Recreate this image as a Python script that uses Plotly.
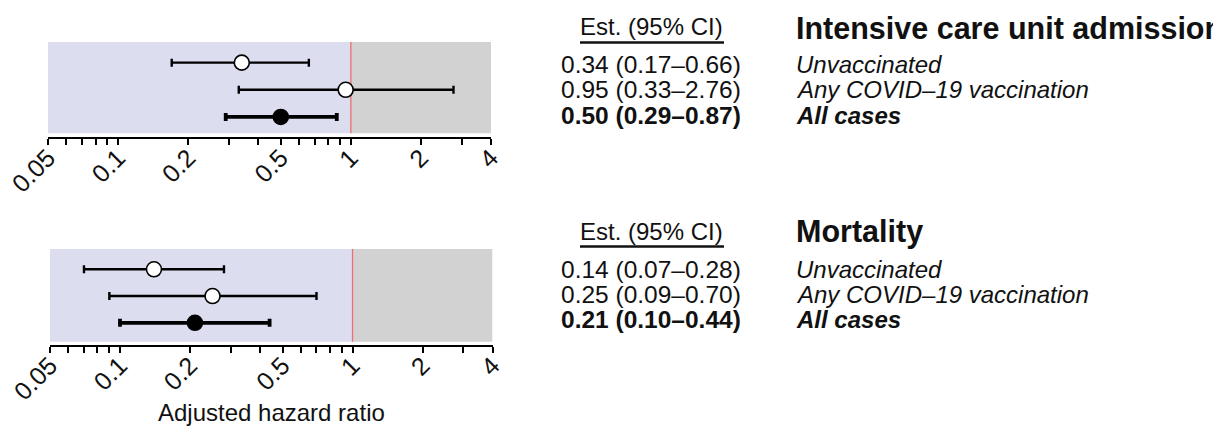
import math
import plotly.graph_objects as go

W, H = 1213, 428

# ---------------- data ----------------
rows = ["Unvaccinated", "Any COVID\u201319 vaccination", "All cases"]
row_pos = [3, 2, 1]

icu_est = [0.34, 0.95, 0.50]
icu_lo = [0.17, 0.33, 0.29]
icu_hi = [0.66, 2.76, 0.87]

mort_est = [0.14, 0.25, 0.21]
mort_lo = [0.07, 0.09, 0.10]
mort_hi = [0.28, 0.70, 0.44]

panel_titles = ["Intensive care unit admission", "Mortality"]
x_ticks = [0.05, 0.1, 0.2, 0.5, 1, 2, 4]
x_tick_labels = ["0.05", "0.1", "0.2", "0.5", "1", "2", "4"]
x_minor = [0.06, 0.07, 0.08, 0.09, 0.3, 0.4, 0.6, 0.7, 0.8, 0.9, 3]
x_title = "Adjusted hazard ratio"
ref_value = 1
x_min, x_max = 0.05, 4

FONT = "Liberation Sans, Arial, Helvetica, sans-serif"
INK = "#111"


def px_x(x):
    return x / W


def px_y(y):
    return 1 - y / H


fig = go.Figure()

panels = [
    dict(est=icu_est, lo=icu_lo, hi=icu_hi, xd=(48, 491), yd=(42, 137.3),
         yr=(0.25, 3.76), shade0=0.042, head_y=28, title=panel_titles[0]),
    dict(est=mort_est, lo=mort_lo, hi=mort_hi, xd=(50, 492.5), yd=(249, 345),
         yr=(0.17, 3.76), shade0=0.034, head_y=232, title=panel_titles[1]),
]

for i, p in enumerate(panels):
    xa = "x" if i == 0 else "x2"
    ya = "y" if i == 0 else "y2"
    for j in range(3):
        est, lo, hi = p["est"][j], p["lo"][j], p["hi"][j]
        bold = j == 2
        fig.add_trace(go.Scatter(
            x=[est], y=[row_pos[j]], xaxis=xa, yaxis=ya, mode="markers",
            marker=dict(size=15, color="black" if bold else "white",
                        line=dict(color="black", width=1.6)),
            error_x=dict(type="data", symmetric=False, array=[hi - est],
                         arrayminus=[est - lo], color="black",
                         thickness=3.8 if bold else 2.4, width=4),
            showlegend=False, hoverinfo="skip", cliponaxis=False,
        ))

    axis_common = dict(
        type="log", range=[math.log10(x_min), math.log10(x_max)],
        domain=[px_x(p["xd"][0]), px_x(p["xd"][1])],
        tickmode="array", tickvals=x_ticks, ticktext=x_tick_labels,
        tickangle=-45, ticks="outside", ticklen=6, tickwidth=2, tickcolor="black",
        ticklabelstandoff=-12,
        showline=True, linecolor="black", linewidth=2,
        showgrid=False, zeroline=False, automargin=False,
        tickfont=dict(family=FONT, size=25, color=INK),
        minor=dict(tickmode="array", tickvals=x_minor, ticks="outside",
                   ticklen=6, tickwidth=2, tickcolor="black", showgrid=False),
        anchor=ya,
    )
    yaxis_common = dict(domain=[px_y(p["yd"][1]), px_y(p["yd"][0])],
                        range=list(p["yr"]), showticklabels=False, showgrid=False,
                        zeroline=False, showline=False, ticks="", anchor=xa,
                        automargin=False)
    if i == 0:
        fig.update_layout(xaxis=axis_common, yaxis=yaxis_common)
    else:
        fig.update_layout(xaxis2=axis_common, yaxis2=yaxis_common)

    # background shading
    fig.add_shape(type="rect", xref=xa, yref=ya + " domain", x0=x_min, x1=ref_value,
                  y0=p["shade0"], y1=1, fillcolor="#DCDEF0", line_width=0, layer="below")
    fig.add_shape(type="rect", xref=xa, yref=ya + " domain", x0=ref_value, x1=x_max,
                  y0=p["shade0"], y1=1, fillcolor="#D3D2D3", line_width=0, layer="below")
    fig.add_shape(type="line", xref=xa, yref=ya + " domain", x0=ref_value, x1=ref_value,
                  y0=p["shade0"], y1=1, line=dict(color="#EC6F6F", width=1.3), layer="below")

    # text table
    hy = p["head_y"]
    fig.add_annotation(x=px_x(651), y=px_y(hy - 1), xref="paper", yref="paper",
                       text="Est. (95% CI)", showarrow=False, xanchor="center", yanchor="middle",
                       font=dict(family=FONT, size=24, color=INK))
    fig.add_shape(type="line", xref="paper", yref="paper", x0=px_x(580), x1=px_x(724),
                  y0=px_y(hy + 14.5), y1=px_y(hy + 14.5), line=dict(color=INK, width=2.6))
    fig.add_annotation(x=px_x(794), y=px_y(hy), xref="paper", yref="paper",
                       text="<b>" + p["title"] + "</b>", showarrow=False,
                       xanchor="left", yanchor="middle",
                       font=dict(family=FONT, size=30.5, color=INK))
    for j in range(3):
        ty = hy + 37 + 25 * j
        txt = f"{p['est'][j]:.2f} ({p['lo'][j]:.2f}\u2013{p['hi'][j]:.2f})"
        lab = rows[j]
        if j == 2:
            txt = "<b>" + txt + "</b>"
            lab = "<b><i>" + lab + "</i></b>"
        else:
            lab = "<i>" + lab + "</i>"
        fig.add_annotation(x=px_x(651), y=px_y(ty), xref="paper", yref="paper",
                           text=txt, showarrow=False, xanchor="center", yanchor="middle",
                           font=dict(family=FONT, size=24.5, color=INK))
        fig.add_annotation(x=px_x(794), y=px_y(ty), xref="paper", yref="paper",
                           text=lab, showarrow=False, xanchor="left", yanchor="middle",
                           font=dict(family=FONT, size=24, color=INK))

# x-axis title (bottom panel)
fig.add_annotation(x=px_x(271), y=px_y(412), xref="paper", yref="paper",
                   text=x_title, showarrow=False, xanchor="center", yanchor="middle",
                   font=dict(family=FONT, size=24, color=INK))

fig.update_layout(
    width=W, height=H, margin=dict(l=0, r=0, t=0, b=0, autoexpand=False),
    paper_bgcolor="white", plot_bgcolor="rgba(0,0,0,0)",
    showlegend=False,
)

fig.write_html(
    "out.html",
    config={"displayModeBar": False},
    post_script="document.body.style.margin='0';document.body.style.overflow='hidden';",
)
